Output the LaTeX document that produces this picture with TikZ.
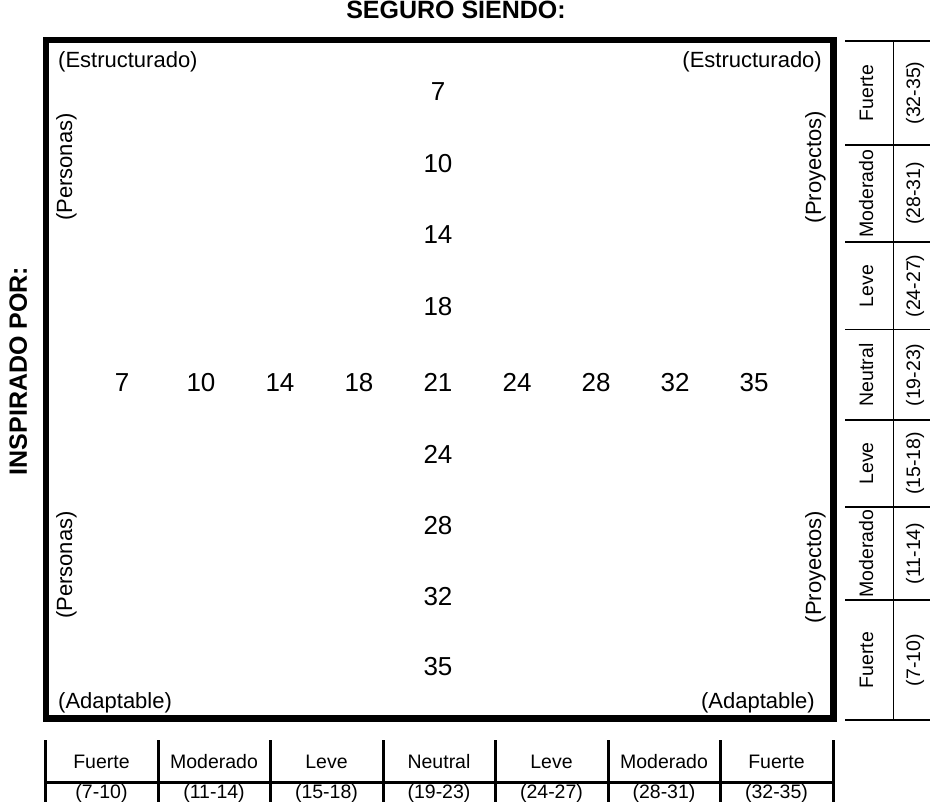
\documentclass[tikz,border=0pt]{standalone}
\usepackage{fontspec}
\setmainfont{Liberation Sans}
\usepackage{tikz}
\usetikzlibrary{positioning}

\begin{document}
\begin{tikzpicture}[
    x=1pt, y=-1pt,
    num/.style={inner sep=0pt, anchor=base, font=\fontsize{26}{30}\selectfont},
    corner/.style={inner sep=0pt, font=\fontsize{22}{26}\selectfont},
    side/.style={inner sep=0pt, anchor=base, rotate=90, font=\fontsize{22}{26}\selectfont},
    heading/.style={inner sep=0pt, anchor=base, font=\fontsize{25}{29}\selectfont\bfseries},
    cell/.style={inner sep=0pt, anchor=base, font=\fontsize{19.5}{23}\selectfont},
    vcell/.style={cell, rotate=90},
    rule/.style={line width=2.5pt},
    thinrule/.style={line width=1pt}
]
\useasboundingbox (0,0) rectangle (930,802);

% Titles
\node[heading] (seguro) at (456,19) {SEGURO SIENDO:};
\node[heading, rotate=90] (inspirado) at (27,371) {INSPIRADO POR:};

% Main frame
\draw[line width=6.5pt] (46,40) rectangle (833.5,718.5);

% Corner labels
\node[corner, anchor=base west] (estr_l) at (58,68) {(Estructurado)};
\node[corner, anchor=base east] (estr_r) at (822,68) {(Estructurado)};
\node[corner, anchor=base west] (adap_l) at (58,708) {(Adaptable)};
\node[corner, anchor=base east] (adap_r) at (815,708) {(Adaptable)};
\node[side] (pers_top) at (72,167) {(Personas)};
\node[side] (pers_bot) at (72,565) {(Personas)};
\node[side] (proy_top) at (821,167) {(Proyectos)};
\node[side] (proy_bot) at (821,567) {(Proyectos)};

% Horizontal scale
\node[num] (h7)  at (122,391.5) {7};
\node[num] (h10) at (201,391.5) {10};
\node[num] (h14) at (280,391.5) {14};
\node[num] (h18) at (359,391.5) {18};
\node[num] (c21) at (438,391.5) {21};
\node[num] (h24) at (517,391.5) {24};
\node[num] (h28) at (596,391.5) {28};
\node[num] (h32) at (675,391.5) {32};
\node[num] (h35) at (754,391.5) {35};

% Vertical scale
\node[num] (v7)  at (438,100.3) {7};
\node[num] (v10) at (438,172.3) {10};
\node[num] (v14) at (438,243.3) {14};
\node[num] (v18) at (438,315.3) {18};
\node[num] (v24) at (438,463.3) {24};
\node[num] (v28) at (438,534.3) {28};
\node[num] (v32) at (438,605.3) {32};
\node[num] (v35) at (438,675.3) {35};

% Right table
\draw[rule] (845,41) -- (930,41);
\draw[rule] (845,145) -- (930,145);
\draw[rule] (845,242) -- (930,242);
\draw[thinrule] (845,330) -- (930,330);
\draw[rule] (845,420) -- (930,420);
\draw[rule] (845,507) -- (930,507);
\draw[rule] (845,600) -- (930,600);
\draw[rule] (845,720) -- (930,720);
\draw[thinrule] (893,41) -- (893,720);

\node[vcell] (r1a) at (873,93) {Fuerte};
\node[vcell] (r1b) at (920,93) {(32-35)};
\node[vcell] (r2a) at (873,193.5) {Moderado};
\node[vcell] (r2b) at (920,193.5) {(28-31)};
\node[vcell] (r3a) at (873,286) {Leve};
\node[vcell] (r3b) at (920,286) {(24-27)};
\node[vcell] (r4a) at (873,375) {Neutral};
\node[vcell] (r4b) at (920,375) {(19-23)};
\node[vcell] (r5a) at (873,463.5) {Leve};
\node[vcell] (r5b) at (920,463.5) {(15-18)};
\node[vcell] (r6a) at (873,553.5) {Moderado};
\node[vcell] (r6b) at (920,553.5) {(11-14)};
\node[vcell] (r7a) at (873,660) {Fuerte};
\node[vcell] (r7b) at (920,660) {(7-10)};

% Bottom table
\draw[line width=3pt] (45,782.5) -- (833,782.5);
\draw[line width=3pt] (45,740) -- (45,802);
\draw[line width=3pt] (158,740) -- (158,802);
\draw[line width=3pt] (270,740) -- (270,802);
\draw[line width=3pt] (383,740) -- (383,802);
\draw[line width=3pt] (495,740) -- (495,802);
\draw[line width=3pt] (608,740) -- (608,802);
\draw[line width=3pt] (720,740) -- (720,802);
\draw[line width=3pt] (833,740) -- (833,802);

\node[cell] (b1a) at (101.5,768) {Fuerte};
\node[cell] (b1b) at (101.5,798.5) {(7-10)};
\node[cell] (b2a) at (214,768) {Moderado};
\node[cell] (b2b) at (214,798.5) {(11-14)};
\node[cell] (b3a) at (326.5,768) {Leve};
\node[cell] (b3b) at (326.5,798.5) {(15-18)};
\node[cell] (b4a) at (439,768) {Neutral};
\node[cell] (b4b) at (439,798.5) {(19-23)};
\node[cell] (b5a) at (551.5,768) {Leve};
\node[cell] (b5b) at (551.5,798.5) {(24-27)};
\node[cell] (b6a) at (664,768) {Moderado};
\node[cell] (b6b) at (664,798.5) {(28-31)};
\node[cell] (b7a) at (776.5,768) {Fuerte};
\node[cell] (b7b) at (776.5,798.5) {(32-35)};
\end{tikzpicture}
\end{document}
